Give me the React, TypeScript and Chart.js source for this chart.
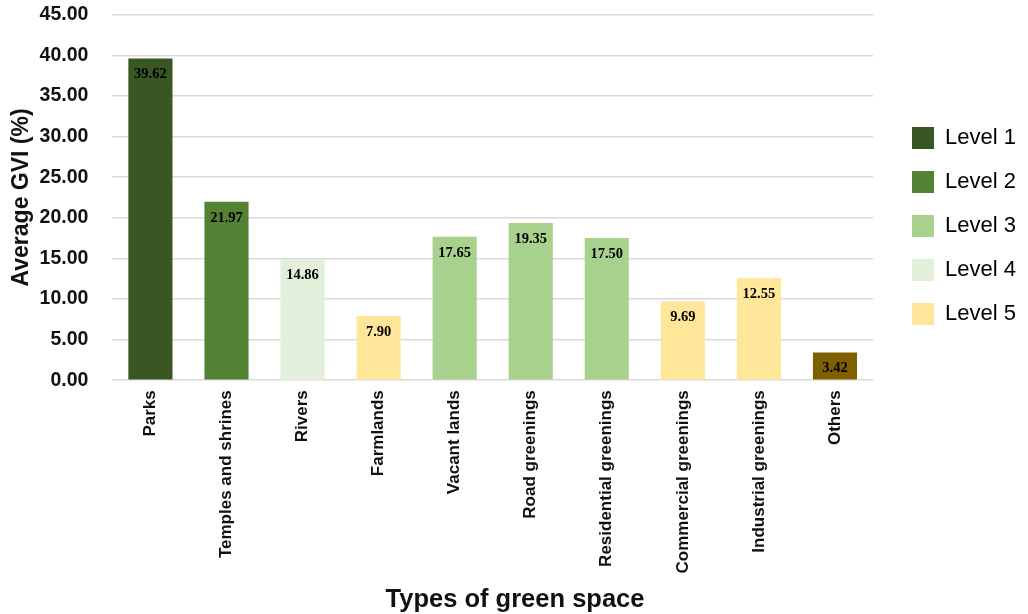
import React, { useEffect, useRef } from "react";
import { Chart, registerables } from "chart.js";

Chart.register(...registerables);

const categories = [
  "Parks",
  "Temples and shrines",
  "Rivers",
  "Farmlands",
  "Vacant lands",
  "Road greenings",
  "Residential greenings",
  "Commercial greenings",
  "Industrial greenings",
  "Others",
];
const gviValues = [39.62, 21.97, 14.86, 7.9, 17.65, 19.35, 17.5, 9.69, 12.55, 3.42];
// level of each category (0 = not ranked)
const levelOfCategory = [1, 2, 4, 5, 3, 3, 3, 5, 5, 0];
const levelNames = ["Level 1", "Level 2", "Level 3", "Level 4", "Level 5"];
const levelColors = ["#385723", "#548235", "#a9d18e", "#e2efda", "#ffe699"];
const otherColor = "#7f6000";
const yTicks = [0, 5, 10, 15, 20, 25, 30, 35, 40, 45];

const SANS = "'Liberation Sans', Arial, sans-serif";

// value printed just inside the top of each bar
const valueLabels = {
  id: "valueLabels",
  afterDatasetsDraw(chart: any) {
    const ctx = chart.ctx;
    const meta = chart.getDatasetMeta(0);
    ctx.save();
    ctx.font = "bold 14.5px 'Liberation Serif', 'Times New Roman', serif";
    ctx.fillStyle = "#000";
    ctx.textAlign = "center";
    ctx.textBaseline = "middle";
    meta.data.forEach((bar: any, i: number) => {
      ctx.fillText(gviValues[i].toFixed(2), bar.x, bar.y + 16);
    });
    ctx.restore();
  },
};

// widen the right-hand legend column and place its items
const legendPlacement = {
  id: "legendPlacement",
  beforeLayout(chart: any) {
    const legend = chart.legend;
    if (legend && !legend.__wide) {
      const fit = legend.fit;
      legend.fit = function () {
        fit.call(this);
        this.width = 155;
      };
      legend.__wide = true;
    }
  },
  afterLayout(chart: any) {
    const legend = chart.legend;
    if (!legend) return;
    legend.left += 17;
    legend.right += 17;
    legend.top += 105;
    legend.bottom += 105;
  },
};

export default function App() {
  const canvasRef = useRef<HTMLCanvasElement | null>(null);

  useEffect(() => {
    document.body.style.margin = "0";
    const colors = levelOfCategory.map((l) => (l === 0 ? otherColor : levelColors[l - 1]));
    const chart = new Chart(canvasRef.current as HTMLCanvasElement, {
      type: "bar",
      data: {
        labels: categories,
        datasets: [
          {
            label: "Average GVI",
            data: gviValues,
            backgroundColor: colors,
            categoryPercentage: 1,
            barPercentage: 0.58,
          },
        ],
      },
      options: {
        animation: false,
        responsive: false,
        layout: { padding: { top: 0, right: 0, left: 2, bottom: 0 } },
        plugins: {
          tooltip: { enabled: false },
          title: {
            display: true,
            position: "bottom",
            text: "Types of green space",
            color: "#111",
            padding: { top: 4, bottom: 1 },
            font: { family: SANS, size: 25.5, weight: "bold", lineHeight: 1 },
          },
          legend: {
            position: "right",
            align: "start",
            onClick: () => {},
            labels: {
              boxWidth: 22,
              boxHeight: 22,
              padding: 22,
              color: "#111",
              font: { family: SANS, size: 22 },
              generateLabels: () =>
                levelNames.map((name, i) => ({
                  text: name,
                  fillStyle: levelColors[i],
                  strokeStyle: levelColors[i],
                  lineWidth: 0,
                  hidden: false,
                  datasetIndex: 0,
                })),
            },
          },
        },
        scales: {
          x: {
            grid: { display: false, drawTicks: false },
            border: { display: false },
            ticks: {
              maxRotation: 90,
              minRotation: 90,
              padding: 10,
              color: "#111",
              font: { family: SANS, size: 17, weight: "bold" },
            },
          },
          y: {
            min: 0,
            max: 45,
            afterBuildTicks: (axis: any) => {
              axis.ticks = yTicks.map((v) => ({ value: v }));
            },
            grid: {
              color: "#d9d9d9",
              lineWidth: 1.5,
              drawTicks: true,
              tickLength: 21,
              tickColor: "rgba(0,0,0,0)",
            },
            border: { display: false },
            ticks: {
              padding: 3,
              color: "#111",
              font: { family: SANS, size: 19.5, weight: "bold" },
              callback: (v: any) => Number(v).toFixed(2),
            },
            title: {
              display: true,
              text: "Average GVI (%)",
              color: "#111",
              padding: { top: 6, bottom: 1 },
              font: { family: SANS, size: 23, weight: "bold" },
            },
          },
        },
      },
      plugins: [valueLabels, legendPlacement],
    });
    return () => chart.destroy();
  }, []);

  return (
    <div style={{ width: 1028, height: 614, background: "#fff" }}>
      <canvas ref={canvasRef} width={1028} height={614} />
    </div>
  );
}
